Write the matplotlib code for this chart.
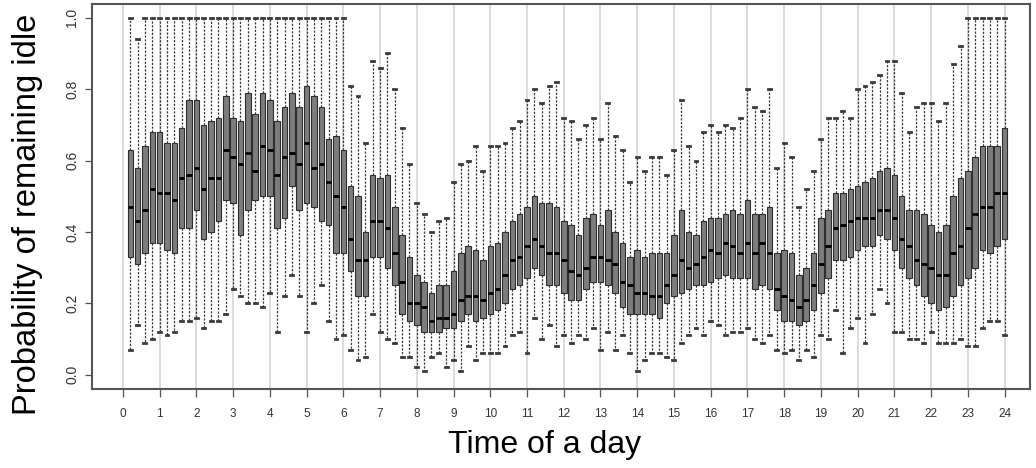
"""Idle-probability boxplots across the day, one box every 12 minutes."""
import matplotlib
matplotlib.use("Agg")
import matplotlib.pyplot as plt
import numpy as np

# ---------------------------------------------------------------------------
# Data: five-number summaries, one entry per 12-minute slot (0.2 h .. 24.0 h)
# ---------------------------------------------------------------------------

SLOT_HOURS = np.round(np.arange(1, 121) * 0.2, 1)

WHISK_HI = [
    1.00, 0.94, 1.00, 1.00, 1.00, 1.00, 1.00, 1.00, 1.00, 1.00,
    1.00, 1.00, 1.00, 1.00, 1.00, 1.00, 1.00, 1.00, 1.00, 1.00,
    1.00, 1.00, 1.00, 1.00, 1.00, 1.00, 1.00, 1.00, 1.00, 1.00,
    0.81, 0.78, 0.65, 0.88, 0.86, 0.90, 0.80, 0.69, 0.59, 0.48,
    0.45, 0.40, 0.43, 0.44, 0.54, 0.59, 0.60, 0.64, 0.57, 0.64,
    0.64, 0.65, 0.69, 0.71, 0.77, 0.80, 0.76, 0.81, 0.82, 0.72,
    0.71, 0.66, 0.70, 0.72, 0.66, 0.76, 0.67, 0.63, 0.54, 0.61,
    0.57, 0.61, 0.61, 0.56, 0.63, 0.77, 0.64, 0.60, 0.68, 0.70,
    0.68, 0.70, 0.69, 0.72, 0.80, 0.75, 0.74, 0.80, 0.58, 0.65,
    0.61, 0.47, 0.52, 0.57, 0.66, 0.72, 0.72, 0.74, 0.72, 0.80,
    0.81, 0.82, 0.84, 0.88, 0.88, 0.79, 0.68, 0.75, 0.76, 0.76,
    0.71, 0.76, 0.87, 0.92, 1.00, 1.00, 1.00, 1.00, 1.00, 1.00,
]

Q3 = [
    0.63, 0.58, 0.64, 0.68, 0.68, 0.65, 0.65, 0.69, 0.77, 0.77,
    0.70, 0.71, 0.72, 0.78, 0.72, 0.71, 0.79, 0.73, 0.79, 0.77,
    0.71, 0.75, 0.79, 0.75, 0.81, 0.78, 0.75, 0.66, 0.67, 0.63,
    0.53, 0.50, 0.40, 0.56, 0.55, 0.56, 0.47, 0.39, 0.33, 0.28,
    0.26, 0.23, 0.25, 0.25, 0.29, 0.34, 0.36, 0.35, 0.32, 0.36,
    0.37, 0.40, 0.43, 0.45, 0.47, 0.50, 0.48, 0.48, 0.47, 0.43,
    0.42, 0.39, 0.44, 0.45, 0.42, 0.46, 0.40, 0.37, 0.33, 0.35,
    0.33, 0.34, 0.34, 0.34, 0.39, 0.46, 0.40, 0.39, 0.43, 0.44,
    0.44, 0.45, 0.46, 0.45, 0.49, 0.45, 0.45, 0.47, 0.34, 0.35,
    0.34, 0.28, 0.30, 0.34, 0.44, 0.46, 0.51, 0.51, 0.52, 0.53,
    0.54, 0.55, 0.57, 0.58, 0.56, 0.50, 0.46, 0.46, 0.45, 0.42,
    0.40, 0.42, 0.50, 0.55, 0.57, 0.61, 0.64, 0.64, 0.64, 0.69,
]

MEDIAN = [
    0.47, 0.43, 0.46, 0.52, 0.51, 0.51, 0.49, 0.55, 0.56, 0.58,
    0.52, 0.55, 0.55, 0.63, 0.61, 0.59, 0.62, 0.57, 0.64, 0.63,
    0.56, 0.61, 0.62, 0.59, 0.65, 0.58, 0.59, 0.54, 0.50, 0.47,
    0.38, 0.32, 0.32, 0.43, 0.43, 0.41, 0.34, 0.26, 0.20, 0.20,
    0.19, 0.15, 0.16, 0.16, 0.17, 0.21, 0.22, 0.22, 0.21, 0.23,
    0.24, 0.28, 0.32, 0.33, 0.36, 0.38, 0.36, 0.34, 0.34, 0.32,
    0.29, 0.28, 0.30, 0.33, 0.33, 0.32, 0.31, 0.26, 0.25, 0.23,
    0.23, 0.22, 0.22, 0.25, 0.28, 0.32, 0.30, 0.31, 0.33, 0.35,
    0.34, 0.37, 0.36, 0.34, 0.37, 0.34, 0.37, 0.34, 0.24, 0.22,
    0.21, 0.19, 0.21, 0.25, 0.31, 0.36, 0.41, 0.42, 0.43, 0.44,
    0.44, 0.44, 0.46, 0.46, 0.44, 0.38, 0.36, 0.32, 0.31, 0.30,
    0.28, 0.28, 0.34, 0.36, 0.41, 0.45, 0.47, 0.47, 0.51, 0.51,
]

Q1 = [
    0.33, 0.31, 0.34, 0.37, 0.37, 0.35, 0.34, 0.41, 0.41, 0.46,
    0.38, 0.40, 0.43, 0.49, 0.48, 0.39, 0.46, 0.49, 0.50, 0.50,
    0.41, 0.44, 0.53, 0.46, 0.48, 0.47, 0.43, 0.42, 0.34, 0.34,
    0.29, 0.22, 0.22, 0.33, 0.33, 0.30, 0.25, 0.17, 0.15, 0.14,
    0.12, 0.12, 0.12, 0.13, 0.13, 0.15, 0.17, 0.15, 0.16, 0.17,
    0.18, 0.20, 0.24, 0.25, 0.27, 0.30, 0.28, 0.25, 0.25, 0.23,
    0.21, 0.21, 0.24, 0.26, 0.26, 0.25, 0.23, 0.19, 0.17, 0.17,
    0.17, 0.17, 0.16, 0.20, 0.22, 0.23, 0.24, 0.25, 0.25, 0.26,
    0.27, 0.28, 0.27, 0.27, 0.27, 0.24, 0.25, 0.24, 0.18, 0.15,
    0.15, 0.14, 0.15, 0.18, 0.23, 0.27, 0.32, 0.32, 0.33, 0.35,
    0.36, 0.36, 0.39, 0.38, 0.35, 0.30, 0.27, 0.25, 0.22, 0.20,
    0.18, 0.19, 0.22, 0.25, 0.27, 0.30, 0.35, 0.34, 0.36, 0.38,
]

WHISK_LO = [
    0.07, 0.14, 0.09, 0.10, 0.12, 0.11, 0.12, 0.15, 0.15, 0.16,
    0.13, 0.15, 0.15, 0.17, 0.24, 0.22, 0.20, 0.20, 0.19, 0.23,
    0.12, 0.22, 0.28, 0.22, 0.12, 0.20, 0.25, 0.15, 0.10, 0.11,
    0.07, 0.04, 0.05, 0.17, 0.12, 0.10, 0.09, 0.05, 0.05, 0.02,
    0.01, 0.05, 0.06, 0.02, 0.04, 0.01, 0.08, 0.04, 0.06, 0.06,
    0.06, 0.08, 0.11, 0.12, 0.06, 0.16, 0.10, 0.14, 0.08, 0.11,
    0.09, 0.11, 0.10, 0.13, 0.07, 0.12, 0.07, 0.11, 0.06, 0.01,
    0.04, 0.06, 0.06, 0.05, 0.04, 0.09, 0.11, 0.13, 0.11, 0.15,
    0.14, 0.11, 0.12, 0.12, 0.13, 0.10, 0.09, 0.11, 0.07, 0.06,
    0.07, 0.04, 0.07, 0.05, 0.11, 0.10, 0.18, 0.06, 0.13, 0.16,
    0.09, 0.17, 0.24, 0.20, 0.12, 0.12, 0.10, 0.10, 0.09, 0.12,
    0.09, 0.09, 0.09, 0.10, 0.08, 0.08, 0.13, 0.15, 0.15, 0.11,
]

HOUR_TICKS = list(range(25))
Y_TICKS = [0.0, 0.2, 0.4, 0.6, 0.8, 1.0]

TICK_FONT = ["Liberation Sans Narrow", "Liberation Sans", "DejaVu Sans"]
LABEL_FONT = ["Liberation Sans", "DejaVu Sans"]


def build_stats() -> list[dict]:
    """Pack the per-slot summaries into the dicts that Axes.bxp expects."""
    return [
        dict(whislo=lo, q1=a, med=m, q3=b, whishi=hi, fliers=[])
        for lo, a, m, b, hi in zip(WHISK_LO, Q1, MEDIAN, Q3, WHISK_HI)
    ]


def main() -> None:
    fig = plt.figure(figsize=(10.36, 4.68), dpi=100)
    ax = fig.add_axes([0.0885, 0.169, 0.906, 0.8235])

    # hour gridlines sit behind the boxes
    for h in HOUR_TICKS:
        ax.axvline(h, color="#dcdcdc", linewidth=1.4, zorder=0)

    ax.bxp(
        build_stats(),
        positions=SLOT_HOURS,
        widths=0.15,
        capwidths=0.08,
        patch_artist=True,
        showfliers=False,
        boxprops=dict(facecolor="#7d7d7d", edgecolor="#2e2e2e", linewidth=0.8),
        medianprops=dict(color="black", linewidth=2.0),
        whiskerprops=dict(color="#3a3a3a", linewidth=0.9, linestyle=(0, (1.8, 1.2))),
        capprops=dict(color="#3a3a3a", linewidth=2.0),
        manage_ticks=False,
    )

    ax.set_xlim(-0.85, 24.7)
    ax.set_ylim(-0.04, 1.04)

    ax.set_xticks(HOUR_TICKS)
    ax.set_xticklabels([str(h) for h in HOUR_TICKS], family=TICK_FONT,
                       fontsize=8.5, color="#333333")
    ax.set_yticks(Y_TICKS)
    ax.set_yticklabels([f"{v:.1f}" for v in Y_TICKS], family=LABEL_FONT,
                       fontsize=10, rotation=90, va="center", color="#333333")
    ax.tick_params(axis="x", length=6, width=0.9, color="#555555", pad=8)
    ax.tick_params(axis="y", length=5, width=0.9, color="#555555", pad=4)

    for spine in ax.spines.values():
        spine.set_color("#555555")
        spine.set_linewidth(1.5)

    # axis titles placed in figure coordinates
    fig.text(0.526, 0.049, "Time of a day", family=LABEL_FONT, fontsize=23,
             ha="center", va="center")
    fig.text(0.027, 0.543, "Probability of remaining idle", family=LABEL_FONT,
             fontsize=23.5, rotation=90, ha="center", va="center")

    fig.savefig("out.png", dpi=100)
    plt.close(fig)


if __name__ == "__main__":
    main()
